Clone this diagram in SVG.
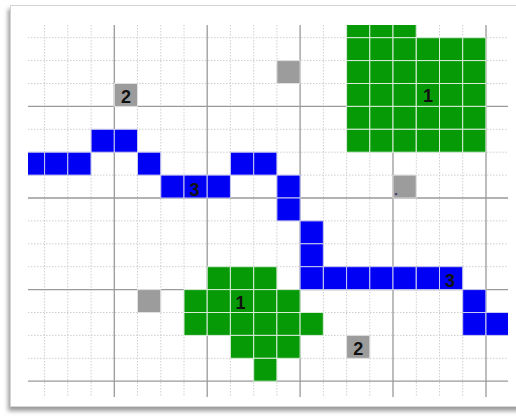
<svg xmlns="http://www.w3.org/2000/svg" width="516" height="416" viewBox="0 0 516 416">
<style>
.minor{stroke:#cfcfcf;stroke-width:1;stroke-dasharray:1.5 1.5;fill:none}
.major{stroke:#9a9a9a;stroke-width:1.3;fill:none}
.g{fill:#079a07;stroke:#d8ecd8;stroke-width:1}
.b{fill:#0000f5;stroke:#c8c8f0;stroke-width:1}
.o{fill:#9c9c9c;stroke:#e0e0e0;stroke-width:1}
.lbl{font-family:"Liberation Sans",Arial,sans-serif;font-weight:bold;font-size:18px;fill:#111;text-anchor:middle}
</style>
<defs>
<clipPath id="area"><rect x="28" y="25" width="480" height="372"/></clipPath>
<filter id="sh" x="-5%" y="-5%" width="110%" height="115%">
<feDropShadow dx="-2" dy="4" stdDeviation="2.2" flood-color="#707070" flood-opacity="0.7"/>
</filter>
</defs>
<rect width="516" height="416" fill="#ffffff"/>
<rect id="frame" x="10.5" y="5.5" width="520" height="401" fill="#ffffff" stroke="#d4d4d4" stroke-width="1" filter="url(#sh)"/>
<g id="grid">
<g class="minor">
<path d="M44.6 25V397M67.8 25V397M91.1 25V397M137.5 25V397M160.8 25V397M184 25V397M230.4 25V397M253.7 25V397M276.9 25V397M323.4 25V397M346.6 25V397M369.8 25V397M416.3 25V397M439.5 25V397M462.7 25V397"/>
<path d="M28 37.7H508M28 60.6H508M28 83.5H508M28 129.3H508M28 152.2H508M28 175.1H508M28 220.9H508M28 243.8H508M28 266.7H508M28 312.5H508M28 335.4H508M28 358.3H508"/>
</g>
<g class="major">
<path d="M114.3 25V397M207.2 25V397M300.1 25V397M393 25V397M486 25V397"/>
<path d="M28 106.4H508M28 198H508M28 289.6H508M28 381.2H508"/>
</g>
</g>
<g clip-path="url(#area)">
<g id="region1-top">
<rect class="g" x="346.6" y="14.8" width="23.2" height="22.9"/>
<rect class="g" x="369.8" y="14.8" width="23.2" height="22.9"/>
<rect class="g" x="393" y="14.8" width="23.2" height="22.9"/>
<rect class="g" x="346.6" y="37.7" width="23.2" height="22.9"/>
<rect class="g" x="369.8" y="37.7" width="23.2" height="22.9"/>
<rect class="g" x="393" y="37.7" width="23.2" height="22.9"/>
<rect class="g" x="416.3" y="37.7" width="23.2" height="22.9"/>
<rect class="g" x="439.5" y="37.7" width="23.2" height="22.9"/>
<rect class="g" x="462.7" y="37.7" width="23.2" height="22.9"/>
<rect class="g" x="346.6" y="60.6" width="23.2" height="22.9"/>
<rect class="g" x="369.8" y="60.6" width="23.2" height="22.9"/>
<rect class="g" x="393" y="60.6" width="23.2" height="22.9"/>
<rect class="g" x="416.3" y="60.6" width="23.2" height="22.9"/>
<rect class="g" x="439.5" y="60.6" width="23.2" height="22.9"/>
<rect class="g" x="462.7" y="60.6" width="23.2" height="22.9"/>
<rect class="g" x="346.6" y="83.5" width="23.2" height="22.9"/>
<rect class="g" x="369.8" y="83.5" width="23.2" height="22.9"/>
<rect class="g" x="393" y="83.5" width="23.2" height="22.9"/>
<rect class="g" x="416.3" y="83.5" width="23.2" height="22.9"/>
<rect class="g" x="439.5" y="83.5" width="23.2" height="22.9"/>
<rect class="g" x="462.7" y="83.5" width="23.2" height="22.9"/>
<rect class="g" x="346.6" y="106.4" width="23.2" height="22.9"/>
<rect class="g" x="369.8" y="106.4" width="23.2" height="22.9"/>
<rect class="g" x="393" y="106.4" width="23.2" height="22.9"/>
<rect class="g" x="416.3" y="106.4" width="23.2" height="22.9"/>
<rect class="g" x="439.5" y="106.4" width="23.2" height="22.9"/>
<rect class="g" x="462.7" y="106.4" width="23.2" height="22.9"/>
<rect class="g" x="346.6" y="129.3" width="23.2" height="22.9"/>
<rect class="g" x="369.8" y="129.3" width="23.2" height="22.9"/>
<rect class="g" x="393" y="129.3" width="23.2" height="22.9"/>
<rect class="g" x="416.3" y="129.3" width="23.2" height="22.9"/>
<rect class="g" x="439.5" y="129.3" width="23.2" height="22.9"/>
<rect class="g" x="462.7" y="129.3" width="23.2" height="22.9"/>
<text class="lbl" x="428" y="101.5">1</text>
</g>
<g id="region1-bottom">
<rect class="g" x="207.2" y="266.7" width="23.2" height="22.9"/>
<rect class="g" x="230.4" y="266.7" width="23.2" height="22.9"/>
<rect class="g" x="253.7" y="266.7" width="23.2" height="22.9"/>
<rect class="g" x="184" y="289.6" width="23.2" height="22.9"/>
<rect class="g" x="207.2" y="289.6" width="23.2" height="22.9"/>
<rect class="g" x="230.4" y="289.6" width="23.2" height="22.9"/>
<rect class="g" x="253.7" y="289.6" width="23.2" height="22.9"/>
<rect class="g" x="276.9" y="289.6" width="23.2" height="22.9"/>
<rect class="g" x="184" y="312.5" width="23.2" height="22.9"/>
<rect class="g" x="207.2" y="312.5" width="23.2" height="22.9"/>
<rect class="g" x="230.4" y="312.5" width="23.2" height="22.9"/>
<rect class="g" x="253.7" y="312.5" width="23.2" height="22.9"/>
<rect class="g" x="276.9" y="312.5" width="23.2" height="22.9"/>
<rect class="g" x="300.1" y="312.5" width="23.2" height="22.9"/>
<rect class="g" x="230.4" y="335.4" width="23.2" height="22.9"/>
<rect class="g" x="253.7" y="335.4" width="23.2" height="22.9"/>
<rect class="g" x="276.9" y="335.4" width="23.2" height="22.9"/>
<rect class="g" x="253.7" y="358.3" width="23.2" height="22.9"/>
<text class="lbl" x="240.5" y="308.5">1</text>
</g>
<g id="path3">
<rect class="b" x="21.4" y="152.2" width="23.2" height="22.9"/>
<rect class="b" x="44.6" y="152.2" width="23.2" height="22.9"/>
<rect class="b" x="67.8" y="152.2" width="23.2" height="22.9"/>
<rect class="b" x="91.1" y="129.3" width="23.2" height="22.9"/>
<rect class="b" x="114.3" y="129.3" width="23.2" height="22.9"/>
<rect class="b" x="137.5" y="152.2" width="23.2" height="22.9"/>
<rect class="b" x="160.8" y="175.1" width="23.2" height="22.9"/>
<rect class="b" x="184" y="175.1" width="23.2" height="22.9"/>
<rect class="b" x="207.2" y="175.1" width="23.2" height="22.9"/>
<rect class="b" x="230.4" y="152.2" width="23.2" height="22.9"/>
<rect class="b" x="253.7" y="152.2" width="23.2" height="22.9"/>
<rect class="b" x="276.9" y="175.1" width="23.2" height="22.9"/>
<rect class="b" x="276.9" y="198" width="23.2" height="22.9"/>
<rect class="b" x="300.1" y="220.9" width="23.2" height="22.9"/>
<rect class="b" x="300.1" y="243.8" width="23.2" height="22.9"/>
<rect class="b" x="300.1" y="266.7" width="23.2" height="22.9"/>
<rect class="b" x="323.4" y="266.7" width="23.2" height="22.9"/>
<rect class="b" x="346.6" y="266.7" width="23.2" height="22.9"/>
<rect class="b" x="369.8" y="266.7" width="23.2" height="22.9"/>
<rect class="b" x="393" y="266.7" width="23.2" height="22.9"/>
<rect class="b" x="416.3" y="266.7" width="23.2" height="22.9"/>
<rect class="b" x="439.5" y="266.7" width="23.2" height="22.9"/>
<rect class="b" x="462.7" y="289.6" width="23.2" height="22.9"/>
<rect class="b" x="462.7" y="312.5" width="23.2" height="22.9"/>
<rect class="b" x="486" y="312.5" width="23.2" height="22.9"/>
<text class="lbl" x="194.5" y="195.5">3</text>
<text class="lbl" x="450" y="286.5">3</text>
</g>
<g id="obstacles">
<g id="obs-a"><rect class="o" x="114.3" y="83.5" width="23.2" height="22.9"/><text class="lbl" x="126" y="102.5">2</text></g>
<g id="obs-b"><rect class="o" x="276.9" y="60.6" width="23.2" height="22.9"/></g>
<g id="obs-c"><rect class="o" x="393" y="175.1" width="23.2" height="22.9"/><text x="396" y="195" font-family="Liberation Sans, sans-serif" font-size="13" font-weight="bold" fill="#333366" text-anchor="middle">.</text></g>
<g id="obs-d"><rect class="o" x="137.5" y="289.6" width="23.2" height="22.9"/></g>
<g id="obs-e"><rect class="o" x="346.6" y="335.4" width="23.2" height="22.9"/><text class="lbl" x="358.2" y="354.5">2</text></g>
</g>
</g>
</svg>
